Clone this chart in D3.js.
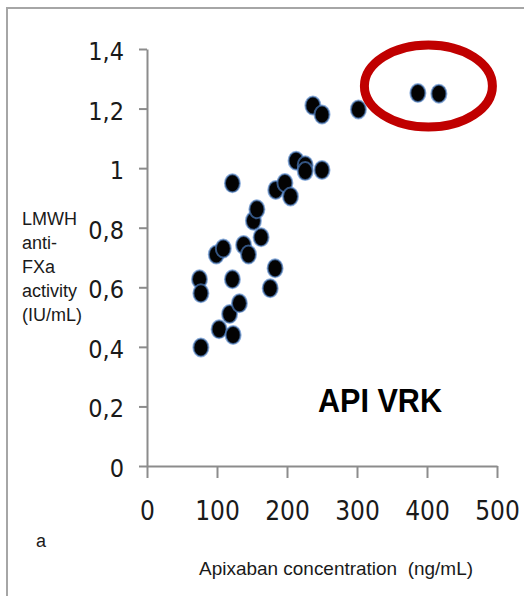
<!DOCTYPE html>
<html>
<head>
<script src="https://d3js.org/d3.v7.min.js"></script>
<style>
  body { margin: 0; background: #fff; }
</style>
</head>
<body>
<script>

var w = 524;
var h = 596;

// apixaban concentration (ng/mL) vs LMWH anti-FXa activity (IU/mL)
var apixaban = [75, 77, 77, 99, 109, 103, 118, 123, 122, 132,
                122, 138, 145, 152, 157, 163, 176, 183, 184, 197,
                205, 213, 226, 226, 250, 237, 250, 302, 387, 417];
var antiFXa = [0.627, 0.58, 0.398, 0.71, 0.73, 0.459, 0.51, 0.44, 0.627, 0.546,
               0.949, 0.742, 0.71, 0.823, 0.862, 0.768, 0.597, 0.664, 0.927, 0.95,
               0.905, 1.025, 1.01, 0.99, 0.994, 1.21, 1.18, 1.197, 1.252, 1.25];

var xTicks = [0, 100, 200, 300, 400, 500];
var yTicks = [0, 0.2, 0.4, 0.6, 0.8, 1, 1.2, 1.4];
var yTitle = ["LMWH", "anti-", "FXa", "activity", "(IU/mL)"];

var points = apixaban.map(function(d, i){ return {x: d, y: antiFXa[i]}; });

var svg = d3.select("body").append("svg").attr("width", w).attr("height", h);

// outer frame
svg.append("rect")
  .attr("x", 7).attr("y", 8)
  .attr("width", 600).attr("height", 700)
  .attr("fill", "none")
  .attr("stroke", "#a6a6a6")
  .attr("stroke-width", 2);

var x = d3.scaleLinear().domain([0, 500]).range([147, 497]);
var y = d3.scaleLinear().domain([0, 1.4]).range([466, 49]);

var fmt = function(d){ return String(d).replace(".", ","); };

var xAxis = svg.append("g")
  .attr("transform", "translate(0," + y(0) + ")")
  .call(d3.axisBottom(x).tickValues(xTicks).tickSizeInner(12).tickSizeOuter(0).tickPadding(24).tickFormat(d3.format("d")));

var yAxis = svg.append("g")
  .attr("transform", "translate(" + x(0) + ",0)")
  .call(d3.axisLeft(y).tickValues(yTicks).tickSizeInner(8).tickSizeOuter(0).tickPadding(15).tickFormat(fmt));

[xAxis, yAxis].forEach(function(a){
  a.selectAll("path, line").attr("stroke", "#8c8c8c").attr("stroke-width", 2);
  a.selectAll("text")
    .attr("fill", "#1a1a1a")
    .attr("font-family", "'Liberation Sans Narrow', 'Arial Narrow', 'DejaVu Sans Condensed', sans-serif");
});
xAxis.selectAll("text").attr("font-size", "26px");
yAxis.selectAll("text").attr("font-size", "25px").attr("dy", "0.42em");

// points
svg.append("g").selectAll("ellipse")
  .data(points)
  .enter().append("ellipse")
  .attr("cx", function(d){ return x(d.x); })
  .attr("cy", function(d){ return y(d.y); })
  .attr("rx", 7.5)
  .attr("ry", 9)
  .attr("fill", "#030303")
  .attr("stroke", "rgba(80,130,200,0.65)")
  .attr("stroke-width", 2);

// red highlight ring
svg.append("ellipse")
  .attr("cx", x(402))
  .attr("cy", y(1.276))
  .attr("rx", 64)
  .attr("ry", 41)
  .attr("fill", "none")
  .attr("stroke", "#c00000")
  .attr("stroke-width", 9);

// y title, stacked lines
svg.append("g").selectAll("text")
  .data(yTitle)
  .enter().append("text")
  .attr("x", 22)
  .attr("y", function(d, i){ return 225 + i * 24; })
  .attr("font-family", "'Liberation Sans', Arial, sans-serif")
  .attr("font-size", "18px")
  .attr("fill", "#1a1a1a")
  .text(function(d){ return d; });

svg.append("text")
  .attr("x", 199).attr("y", 575)
  .attr("font-family", "'Liberation Sans', Arial, sans-serif")
  .attr("font-size", "19px")
  .attr("fill", "#1a1a1a")
  .attr("textLength", 274)
  .attr("lengthAdjust", "spacingAndGlyphs")
  .attr("xml:space", "preserve")
  .text("Apixaban concentration  (ng/mL)");

svg.append("text")
  .attr("x", 36).attr("y", 547)
  .attr("font-family", "'Liberation Sans', Arial, sans-serif")
  .attr("font-size", "18px")
  .attr("fill", "#1a1a1a")
  .text("a");

svg.append("text")
  .attr("x", 318).attr("y", 412)
  .attr("font-family", "'Liberation Sans', Arial, sans-serif")
  .attr("font-weight", "bold")
  .attr("font-size", "34px")
  .attr("fill", "#000")
  .attr("textLength", 124)
  .attr("lengthAdjust", "spacingAndGlyphs")
  .text("API VRK");

</script>
</body>
</html>
